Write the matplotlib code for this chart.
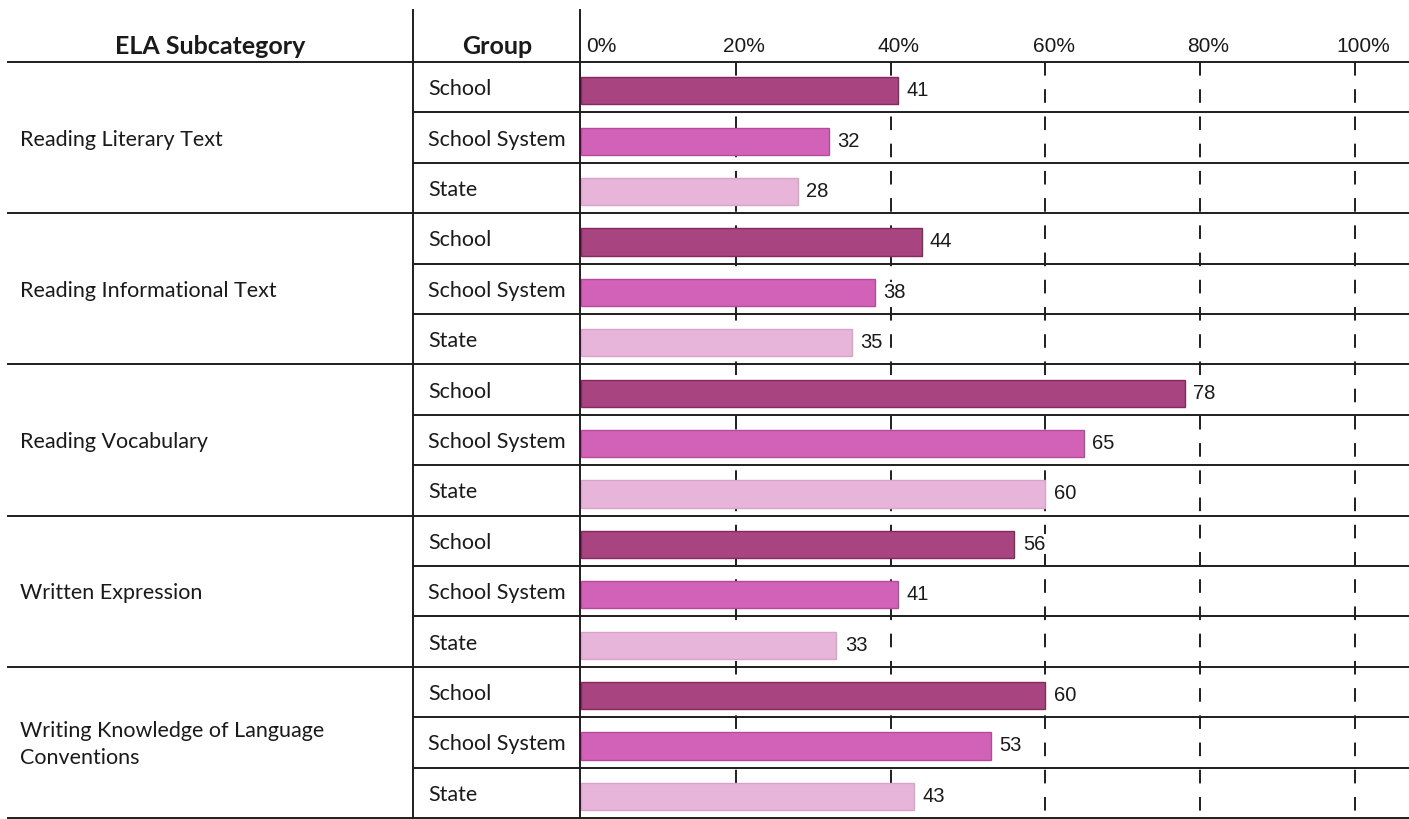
import numpy as np
import matplotlib.pyplot as plt

subcategories = ["Reading Literary Text", "Reading Informational Text", "Reading Vocabulary",
                 "Written Expression", "Writing Knowledge of Language\nConventions"]
groups = ["School", "School System", "State"]
school = [41, 44, 78, 56, 60]
school_system = [32, 38, 65, 41, 53]
state = [28, 35, 60, 33, 43]
ticks = [0, 20, 40, 60, 80, 100]

colors = ["#a8447f", "#d262b8", "#e7b5d9"]
edges = ["#862860", "#b44a9c", "#d8a2c9"]

W, H = 1409, 819
top, rowh = 62, 50.4
x0, pxpct = 581, 7.74
nrows = len(subcategories) * len(groups)

fig = plt.figure(figsize=(W / 100, H / 100), dpi=100)
fig.patch.set_facecolor("white")

# background axes in pixel units for the table frame and labels
bg = fig.add_axes([0, 0, 1, 1])
bg.set_xlim(0, W)
bg.set_ylim(H, 0)
bg.axis("off")

# bar axes, percent on x, row index on y
ax = fig.add_axes([x0 / W, 0, (W - x0) / W, 1])
ax.set_xlim(0, (W - x0) / pxpct)
ax.set_ylim((H - top) / rowh - 0.5, -top / rowh - 0.5)
ax.axis("off")
ax.patch.set_alpha(0)

lc = "#1e1e1e"
lw = 1.4

# horizontal lines
for i in range(nrows + 1):
    y = top + i * rowh
    if i % 3 == 0:
        bg.plot([8, W], [y, y], color=lc, lw=lw)
    else:
        bg.plot([413, W], [y, y], color=lc, lw=lw)

# vertical lines
bg.plot([413, 413], [10, H], color=lc, lw=lw)
bg.plot([580, 580], [10, H], color=lc, lw=lw)

# dashed gridlines
for t in ticks[1:]:
    ax.plot([t, t], [-0.5, nrows + 0.5], color=lc, lw=1.4, dashes=(7, 7))

# bars (sit a little below the row centre, as in the print)
series = [school, school_system, state]
for g, vals in enumerate(series):
    ypos = np.arange(len(vals)) * 3 + g + 0.07
    ax.barh(ypos, vals, height=0.54, color=colors[g], edgecolor=edges[g], lw=1.0, zorder=3)
    for y, v in zip(ypos, vals):
        ax.annotate(str(v), (v, y), xytext=(6, 0), textcoords="offset points",
                    ha="left", va="center", fontsize=14.5, family="Liberation Sans",
                    color="#1a1a1a", zorder=4,
                    bbox=dict(facecolor="white", edgecolor="none", pad=0.5))

# tick labels
for t in ticks:
    ax.annotate(f"{t}%", (t, -0.8), xytext=(4 if t == 0 else 6, 0), textcoords="offset points",
                ha="left" if t == 0 else "center", va="center",
                fontsize=15, family="Liberation Sans", color="#1a1a1a", annotation_clip=False)

# headers
bg.text(210, 47, "ELA Subcategory", ha="center", va="center", fontsize=18,
        family="Lato", weight="bold", color="#1a1a1a")
bg.text(497, 47, "Group", ha="center", va="center", fontsize=18,
        family="Lato", weight="bold", color="#1a1a1a")

# row labels
for k, name in enumerate(subcategories):
    yc = top + (k * 3 + 1.5) * rowh + 2
    bg.text(20, yc, name, ha="left", va="center", fontsize=15.5, family="Lato",
            color="#1a1a1a", linespacing=1.45)
    for g, grp in enumerate(groups):
        yr = top + (k * 3 + g + 0.5) * rowh + 2
        bg.text(428, yr, grp, ha="left", va="center", fontsize=15.5, family="Lato",
                color="#1a1a1a")

fig.savefig("out.png", dpi=100, facecolor="white")
